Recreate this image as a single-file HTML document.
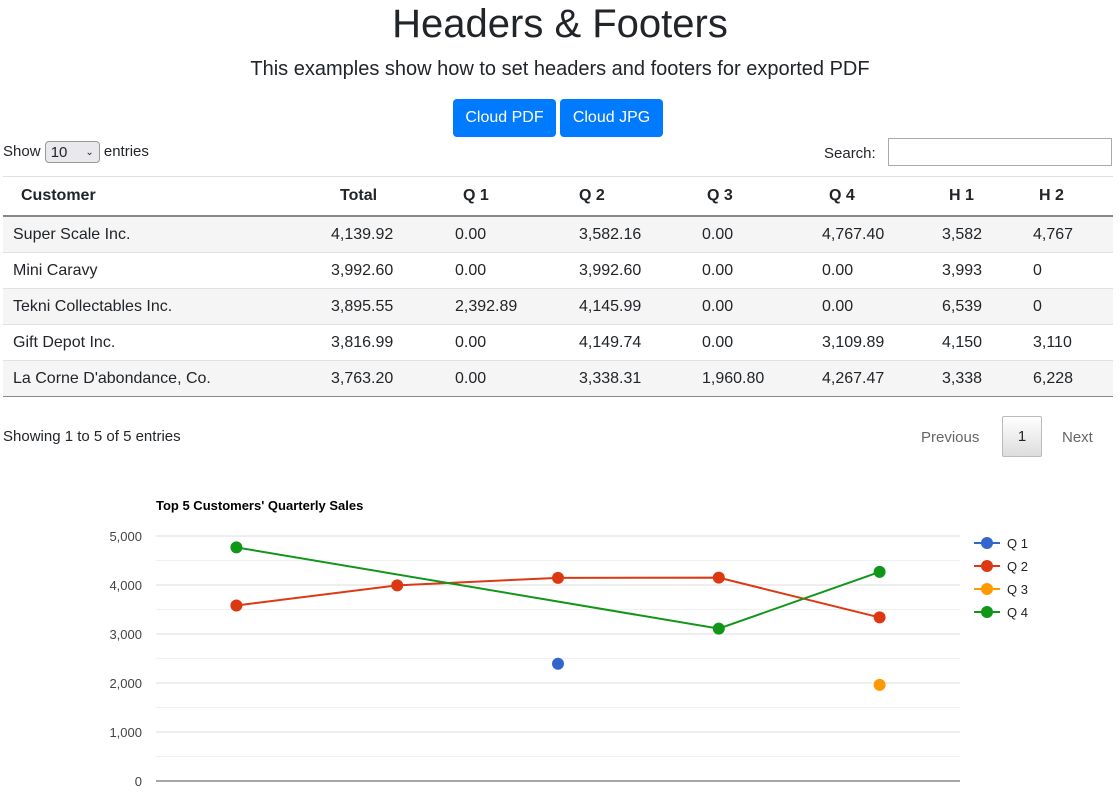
<!DOCTYPE html>
<html><head><meta charset="utf-8"><style>
body{margin:0;width:1120px;height:798px;overflow:hidden;font-family:"Liberation Sans",sans-serif;color:#212529;background:#fff;position:relative}
.abs{position:absolute}
h1{position:absolute;top:2px;left:0;width:1120px;text-align:center;margin:0;font-size:40px;font-weight:500}
.sub{top:58px;left:0;width:1120px;text-align:center;font-size:20px;font-weight:300}
.btn{top:99px;height:38px;background:#007bff;color:#fff;border-radius:4px;font-size:16px;line-height:38px;text-align:center}
table{position:absolute;left:3px;top:176px;width:1110px;border-collapse:collapse;font-size:16px}
th{height:38px;text-align:left;font-weight:bold;border-top:1px solid #dee2e6;border-bottom:2px solid #888;padding:0}
td{height:35px;padding:0;border-top:1px solid #dee2e6}
tr.odd td{background:#f5f5f5}
tbody tr:last-child td{border-bottom:1px solid #888}
</style></head><body>
<h1>Headers &amp; Footers</h1>
<div class="abs sub">This examples show how to set headers and footers for exported PDF</div>
<div class="abs btn" style="left:453px;width:103px">Cloud PDF</div>
<div class="abs btn" style="left:560px;width:103px">Cloud JPG</div>
<div class="abs" style="left:3px;top:141px;font-size:15px">Show <span style="display:inline-block;width:55px;height:22px;border:1px solid #999;border-radius:4px;background:#e9e9ed;vertical-align:middle;font-size:15px;line-height:22px;padding-left:5px;box-sizing:border-box">10 <span style="float:right;margin-right:5px;font-size:10px">⌄</span></span> entries</div>
<div class="abs" style="left:824px;top:145px;font-size:15px">Search:</div>
<div class="abs" style="left:888px;top:138px;width:224px;height:28px;border:1px solid #aaa;box-sizing:border-box"></div>
<table>
<colgroup><col style="width:328px"><col style="width:124px"><col style="width:124px"><col style="width:123px"><col style="width:120px"><col style="width:120px"><col style="width:91px"><col></colgroup>
<thead><tr>
<th style="padding-left:18px">Customer</th><th style="padding-left:9px">Total</th><th style="padding-left:8px">Q 1</th><th style="padding-left:0">Q 2</th><th style="padding-left:5px">Q 3</th><th style="padding-left:7px">Q 4</th><th style="padding-left:7px">H 1</th><th style="padding-left:6px">H 2</th></tr></thead>
<tbody>
<tr class="odd"><td style="padding-left:10px">Super Scale Inc.</td><td>4,139.92</td><td>0.00</td><td>3,582.16</td><td>0.00</td><td>4,767.40</td><td>3,582</td><td>4,767</td></tr>
<tr><td style="padding-left:10px">Mini Caravy</td><td>3,992.60</td><td>0.00</td><td>3,992.60</td><td>0.00</td><td>0.00</td><td>3,993</td><td>0</td></tr>
<tr class="odd"><td style="padding-left:10px">Tekni Collectables Inc.</td><td>3,895.55</td><td>2,392.89</td><td>4,145.99</td><td>0.00</td><td>0.00</td><td>6,539</td><td>0</td></tr>
<tr><td style="padding-left:10px">Gift Depot Inc.</td><td>3,816.99</td><td>0.00</td><td>4,149.74</td><td>0.00</td><td>3,109.89</td><td>4,150</td><td>3,110</td></tr>
<tr class="odd"><td style="padding-left:10px">La Corne D'abondance, Co.</td><td>3,763.20</td><td>0.00</td><td>3,338.31</td><td>1,960.80</td><td>4,267.47</td><td>3,338</td><td>6,228</td></tr>
</tbody></table>
<div class="abs" style="left:3px;top:428px;font-size:15px">Showing 1 to 5 of 5 entries</div>
<div class="abs" style="left:921px;top:429px;font-size:15px;color:#666">Previous</div>
<div class="abs" style="left:1002px;top:416px;width:40px;height:41px;border:1px solid #bbb;border-radius:2px;background:linear-gradient(#fff,#ddd);box-sizing:border-box;text-align:center;line-height:40px;font-size:15px">1</div>
<div class="abs" style="left:1062px;top:429px;font-size:15px;color:#666">Next</div>
<svg class="abs" style="left:0;top:0" width="1120" height="798" id="chart">
<text x="156" y="510" font-size="13" font-weight="bold" font-family="Liberation Sans">Top 5 Customers' Quarterly Sales</text>
</svg>
<script>
const categories=["Super Scale Inc.","Mini Caravy","Tekni Collectables Inc.","Gift Depot Inc.","La Corne D'abondance, Co."];
const q1=[null,null,2392.89,null,null];
const q2=[3582.16,3992.60,4145.99,4149.74,3338.31];
const q3=[null,null,null,null,1960.80];
const q4=[4767.40,null,null,3109.89,4267.47];
const seriesNames=["Q 1","Q 2","Q 3","Q 4"];
const colors=["#3366cc","#dc3912","#ff9900","#109618"];
const yTicks=[0,1000,2000,3000,4000,5000];
const yTickLabels=["0","1,000","2,000","3,000","4,000","5,000"];
const svg=document.getElementById('chart');const NS='http://www.w3.org/2000/svg';
const L=156,R=960,T=536,B=781,yMax=5000;
const x=i=>L+(R-L)/categories.length*(i+0.5);
const y=v=>B-(B-T)*v/yMax;
function mk(t,a){const e=document.createElementNS(NS,t);for(const k in a)e.setAttribute(k,a[k]);svg.appendChild(e);return e;}
for(let v=500;v<yMax;v+=1000){const g=mk('line',{x1:L,x2:R,y1:y(v),y2:y(v),stroke:'#f0f0f0'});

}
yTicks.forEach((v,i)=>{const g=mk('line',{x1:L,x2:R,y1:y(v),y2:y(v),stroke:v===0?'#888':'#ddd','stroke-width':v===0?1.5:1});


const t=mk('text',{x:142,y:y(v)+5,'text-anchor':'end','font-size':13,fill:'#444','font-family':'Liberation Sans'});t.textContent=yTickLabels[i];

});
[q1,q2,q3,q4].forEach((s,si)=>{const pts=[];s.forEach((v,i)=>{if(v!==null)pts.push(x(i)+','+y(v));});
if(pts.length>1){const p=mk('polyline',{points:pts.join(' '),fill:'none',stroke:colors[si],'stroke-width':2});

}
s.forEach((v,i)=>{if(v===null)return;const c=mk('circle',{cx:x(i),cy:y(v),r:6,fill:colors[si]});

});
const ly=543+si*23;
const ll=mk('line',{x1:974,x2:1000,y1:ly,y2:ly,stroke:colors[si],'stroke-width':2});


const lc=mk('circle',{cx:987,cy:ly,r:6,fill:colors[si]});


const lt=mk('text',{x:1007,y:ly+5,'font-size':13,fill:'#222','font-family':'Liberation Sans'});lt.textContent=seriesNames[si];

});
</script>
</body></html>
